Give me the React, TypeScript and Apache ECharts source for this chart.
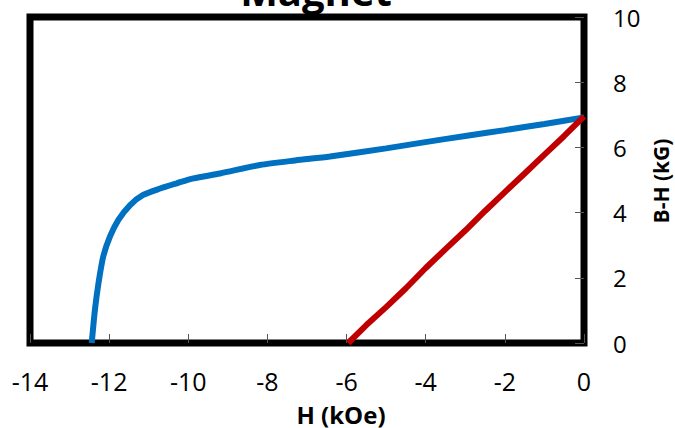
import React, { useEffect, useRef } from "react";
import * as echarts from "echarts";

const titleText = "Magnet";
const xAxisName = "H (kOe)";
const yAxisName = "B-H (kG)";

const blueH = [-12.44, -12.36, -12.27, -12.15, -11.98, -11.77, -11.47, -11.14, -10.71, -10.29, -9.87, -9.2, -8.19, -7.3, -6.42, -5.0, -3.97, -3.0, -2.0, -1.0, 0.0];
const blueB = [0.0, 1.01, 1.83, 2.65, 3.26, 3.77, 4.23, 4.54, 4.74, 4.9, 5.05, 5.2, 5.46, 5.6, 5.72, 5.97, 6.17, 6.35, 6.53, 6.72, 6.92];

const redH = [-5.96, -5.5, -5.0, -4.5, -4.0, -3.5, -3.0, -2.5, -2.0, -1.5, -1.0, -0.5, 0.0];
const redB = [0.0, 0.55, 1.1, 1.68, 2.3, 2.88, 3.45, 4.05, 4.63, 5.2, 5.78, 6.35, 6.95];

const FONT = "Open Sans";

export default function App() {
  const ref = useRef<HTMLDivElement>(null);
  useEffect(() => {
    if (!ref.current) return;
    const chart = echarts.init(ref.current, null, { renderer: "svg" });
    chart.setOption({
      animation: false,
      backgroundColor: "#ffffff",
      grid: {
        left: 30,
        right: 91,
        top: 17,
        bottom: 85,
        show: true,
        borderColor: "#000000",
        borderWidth: 7,
        backgroundColor: "transparent",
      },
      xAxis: {
        type: "value",
        min: -14,
        max: 0,
        interval: 2,
        axisLine: { show: false },
        axisTick: { show: true, inside: true, length: 9, lineStyle: { color: "#555", width: 1 } },
        splitLine: { show: false },
        axisLabel: { color: "#000", fontSize: 25, fontFamily: FONT, margin: 25 },
      },
      yAxis: {
        type: "value",
        position: "right",
        min: 0,
        max: 10,
        interval: 2,
        axisLine: { show: false },
        axisTick: { show: true, inside: true, length: 9, lineStyle: { color: "#555", width: 1 } },
        splitLine: { show: false },
        axisLabel: { color: "#000", fontSize: 24, fontFamily: FONT, margin: 29 },
      },
      graphic: [
        {
          type: "text",
          x: 316,
          y: -10,
          style: { text: titleText, font: `bold 40px "${FONT}"`, fill: "#000", align: "center", verticalAlign: "middle" },
        },
        {
          type: "text",
          x: 341,
          y: 414,
          style: { text: xAxisName, font: `bold 24px "${FONT}"`, fill: "#000", align: "center", verticalAlign: "middle" },
        },
        {
          type: "text",
          x: 661,
          y: 181,
          rotation: Math.PI / 2,
          style: { text: yAxisName, font: `bold 21px "${FONT}"`, fill: "#000", align: "center", verticalAlign: "middle" },
        },
      ],
      series: [
        {
          type: "line",
          data: blueH.map((h, i) => [h, blueB[i]]),
          showSymbol: false,
          smooth: 0.25,
          lineStyle: { color: "#0070C0", width: 6 },
          clip: false,
        },
        {
          type: "line",
          data: redH.map((h, i) => [h, redB[i]]),
          showSymbol: false,
          lineStyle: { color: "#C00000", width: 6 },
          clip: false,
        },
      ],
    });
    return () => chart.dispose();
  }, []);
  return <div ref={ref} style={{ width: 675, height: 428, position: "fixed", left: 0, top: 0 }} />;
}
